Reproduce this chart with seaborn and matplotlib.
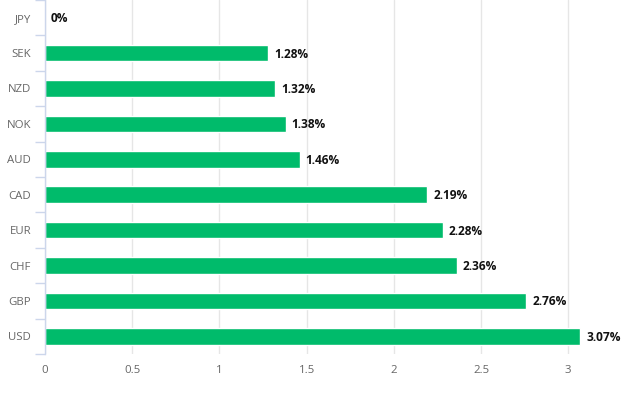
import pandas as pd
import seaborn as sns
import matplotlib.pyplot as plt

# Interest rates by currency (%)
currencies = ['JPY', 'SEK', 'NZD', 'NOK', 'AUD', 'CAD', 'EUR', 'CHF', 'GBP', 'USD']
rates = [0.0, 1.28, 1.32, 1.38, 1.46, 2.19, 2.28, 2.36, 2.76, 3.07]
x_ticks = [0, 0.5, 1, 1.5, 2, 2.5, 3]
x_tick_labels = ['0', '0.5', '1', '1.5', '2', '2.5', '3']

df = pd.DataFrame({'currency': currencies, 'rate': rates})

sns.set_style('white')
plt.rcParams['font.family'] = ['Open Sans', 'DejaVu Sans']

fig = plt.figure(figsize=(6.28, 3.94), dpi=100)
ax = fig.add_axes([45 / 628, 40 / 394, 575 / 628, 354 / 394])

sns.barplot(data=df, x='rate', y='currency', orient='h', color='#00bb6b',
            width=0.47, saturation=1, ax=ax)

# value labels
for i, v in enumerate(df['rate']):
    ax.text(v + 0.035, i + 0.03, f"{v:g}%", va='center', ha='left',
            fontsize=8.6, fontweight='bold', color='#111111')

ax.set_xlim(0, 575 / 174.4)
ax.set_ylim(len(currencies) - 0.5, -0.5)
ax.set_xticks(x_ticks)
ax.set_xticklabels(x_tick_labels)
ax.set_xlabel('')
ax.set_ylabel('')

ax.grid(axis='x', color='#e6e6e6', linewidth=1)
ax.set_axisbelow(True)
for s in ['top', 'right', 'bottom']:
    ax.spines[s].set_visible(False)
ax.spines['left'].set_color('#ccd6eb')
ax.spines['left'].set_linewidth(1)

# category ticks on band boundaries
ax.set_yticks([i + 0.5 for i in range(-1, len(currencies))], minor=True)
ax.tick_params(axis='y', which='minor', left=True, length=7, color='#ccd6eb', width=1)
ax.tick_params(axis='y', which='major', left=False, length=0, pad=10, labelsize=8.2, labelcolor='#666666')
ax.tick_params(axis='x', bottom=False, length=0, pad=8, labelsize=8.2, labelcolor='#666666')

fig.savefig('out.png', dpi=100)
